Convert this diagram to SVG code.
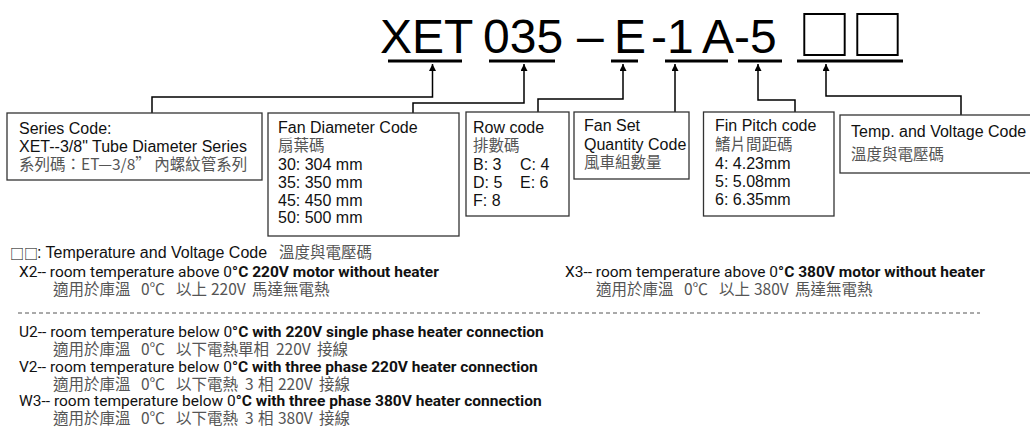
<svg xmlns="http://www.w3.org/2000/svg" width="1030" height="436" viewBox="0 0 1030 436">
<style>
.bg{fill:#fff}
.title{font-family:"Liberation Sans",Arial,sans-serif;font-size:48px;fill:#000}
.sq{font-family:"Noto Sans CJK TC","Noto Sans CJK JP",sans-serif;fill:#000}
.ul{stroke:#000;stroke-width:3;fill:none}
.conn{stroke:#000;stroke-width:1.5;fill:none}
.box{fill:#fff;stroke:#333;stroke-width:1.3}
.en{font-family:"Liberation Sans",Arial,sans-serif;font-size:16px;fill:#111}
.zh{font-family:"Noto Sans CJK TC","Noto Sans CJK SC",sans-serif;font-size:15.5px;fill:#555}
.lg{font-family:Roboto,"Liberation Sans",sans-serif;font-size:15.5px;fill:#111}
.lgb{font-weight:700}
.lz{font-family:"Noto Sans CJK TC","Noto Sans CJK SC",sans-serif;font-size:15.5px;fill:#555}
.dash{stroke:#555;stroke-width:1;stroke-dasharray:4,3;fill:none}
</style>
<defs>
<marker id="arr" viewBox="0 0 10 10" refX="10" refY="5" markerWidth="10" markerHeight="7" markerUnits="userSpaceOnUse" orient="auto">
<path d="M0,0 L10,5 L0,10 z" fill="#000"/>
</marker>
</defs>
<rect class="bg" x="0" y="0" width="1030" height="436"/>

<g id="title">
<text class="title" y="53"><tspan x="380">XET</tspan><tspan x="483">035</tspan><tspan x="577">–</tspan><tspan x="614">E</tspan><tspan x="651">-1</tspan><tspan x="702">A-5</tspan></text>
<text class="sq" x="798" y="55" font-size="53">□□</text>
<line class="ul" x1="388" y1="61" x2="462" y2="61"/>
<line class="ul" x1="489" y1="61" x2="555" y2="61"/>
<line class="ul" x1="611" y1="61" x2="638" y2="61"/>
<line class="ul" x1="665" y1="61" x2="728" y2="61"/>
<line class="ul" x1="738" y1="61" x2="782" y2="61"/>
<line class="ul" x1="797" y1="61" x2="903" y2="61"/>
</g>

<g id="connectors">
<path class="conn" d="M152,113 V97 H432.5 V64" marker-end="url(#arr)"/>
<path class="conn" d="M413,113 V103 H524 V64" marker-end="url(#arr)"/>
<path class="conn" d="M538,112 V99 H623 V64" marker-end="url(#arr)"/>
<path class="conn" d="M675,112 V64" marker-end="url(#arr)"/>
<path class="conn" d="M795,112 V100 H758 V64" marker-end="url(#arr)"/>
<path class="conn" d="M961,115 V96 H826 V64" marker-end="url(#arr)"/>
</g>

<g id="series">
<rect class="box" x="7" y="113" width="255" height="67"/>
<text class="en" x="19" y="134">Series Code:</text>
<text class="en" x="19" y="152">XET--3/8" Tube Diameter Series</text>
<text class="zh" x="19" y="170">系列碼：ET—3/8” 內螺紋管系列</text>
</g>

<g id="fan-diameter">
<rect class="box" x="268" y="113" width="191" height="123"/>
<text class="en" x="278" y="133">Fan Diameter Code</text>
<text class="zh" x="278" y="151">扇葉碼</text>
<text class="en" x="278" y="170">30: 304 mm</text>
<text class="en" x="278" y="188">35: 350 mm</text>
<text class="en" x="278" y="206">45: 450 mm</text>
<text class="en" x="278" y="223">50: 500 mm</text>
</g>

<g id="row-code">
<rect class="box" x="466" y="112" width="103" height="104"/>
<text class="en" x="473" y="133">Row code</text>
<text class="zh" x="473" y="151">排數碼</text>
<text class="en" x="473" y="170">B: 3</text><text class="en" x="520" y="170">C: 4</text>
<text class="en" x="473" y="188">D: 5</text><text class="en" x="520" y="188">E: 6</text>
<text class="en" x="473" y="206">F: 8</text>
</g>

<g id="fan-set">
<rect class="box" x="574" y="112" width="115" height="67"/>
<text class="en" x="584" y="131">Fan Set</text>
<text class="en" x="584" y="150">Quantity Code</text>
<text class="zh" x="584" y="168">風車組數量</text>
</g>

<g id="fin-pitch">
<rect class="box" x="703.5" y="112" width="130.5" height="104"/>
<text class="en" x="715" y="131">Fin Pitch code</text>
<text class="zh" x="715" y="150">鰭片間距碼</text>
<text class="en" x="715" y="169">4: 4.23mm</text>
<text class="en" x="715" y="187">5: 5.08mm</text>
<text class="en" x="715" y="205">6: 6.35mm</text>
</g>

<g id="temp-voltage">
<rect class="box" x="840" y="115" width="200" height="58"/>
<text class="en" x="851" y="137">Temp. and Voltage Code</text>
<text class="zh" x="851" y="160">溫度與電壓碼</text>
</g>

<g id="legend">
<text class="sq" x="10" y="259" font-size="14">□□</text>
<text class="en" x="37" y="258">: Temperature and Voltage Code</text>
<text class="zh" x="279" y="258">溫度與電壓碼</text>

<text class="lg" x="19" y="277">X2-- room temperature above 0<tspan class="lgb">°C 220V motor without heater</tspan></text>
<text class="lz" y="295"><tspan x="53">適用於庫溫</tspan><tspan x="141">0℃</tspan><tspan x="176">以上</tspan><tspan x="211">220V</tspan><tspan x="252">馬達無電熱</tspan></text>
<text class="lg" x="565" y="277">X3-- room temperature above 0<tspan class="lgb">°C 380V motor without heater</tspan></text>
<text class="lz" y="295"><tspan x="596">適用於庫溫</tspan><tspan x="684">0℃</tspan><tspan x="719">以上</tspan><tspan x="754">380V</tspan><tspan x="795">馬達無電熱</tspan></text>

<line class="dash" x1="18" y1="313" x2="980" y2="313"/>

<text class="lg" x="19" y="337">U2-- room temperature below 0<tspan class="lgb">°C with 220V single phase heater connection</tspan></text>
<text class="lz" y="355"><tspan x="53">適用於庫溫</tspan><tspan x="141">0℃</tspan><tspan x="176">以下電熱單相</tspan><tspan x="276">220V</tspan><tspan x="317">接線</tspan></text>
<text class="lg" x="19" y="372">V2-- room temperature below 0<tspan class="lgb">°C with three phase 220V heater connection</tspan></text>
<text class="lz" y="390"><tspan x="53">適用於庫溫</tspan><tspan x="141">0℃</tspan><tspan x="176">以下電熱</tspan><tspan x="245">3</tspan><tspan x="258">相</tspan><tspan x="278">220V</tspan><tspan x="319">接線</tspan></text>
<text class="lg" x="19" y="406">W3-- room temperature below 0<tspan class="lgb">°C with three phase 380V heater connection</tspan></text>
<text class="lz" y="424"><tspan x="53">適用於庫溫</tspan><tspan x="141">0℃</tspan><tspan x="176">以下電熱</tspan><tspan x="245">3</tspan><tspan x="258">相</tspan><tspan x="278">380V</tspan><tspan x="319">接線</tspan></text>
</g>
</svg>
